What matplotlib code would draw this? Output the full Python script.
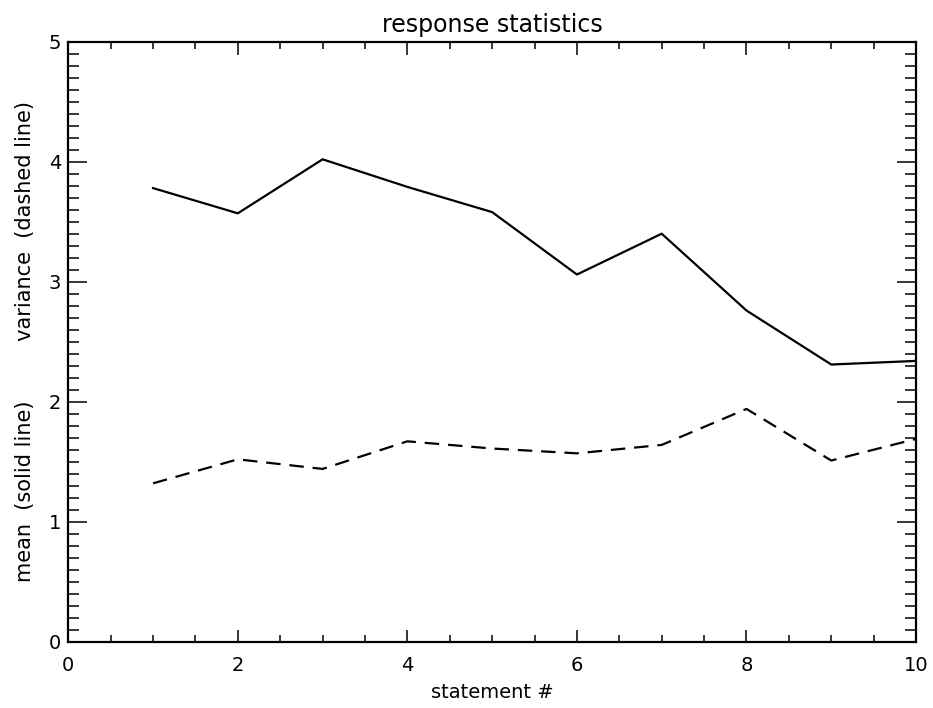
"""
response statistics: mean and variance per statement
"""

import numpy as np
from matplotlib import pyplot as plt
from matplotlib.ticker import MultipleLocator

statements = [1, 2, 3, 4, 5, 6, 7, 8, 9, 10]
mean_vals = [3.78, 3.57, 4.02, 3.79, 3.58, 3.06, 3.40, 2.76, 2.31, 2.34]
variance_vals = [1.32, 1.52, 1.44, 1.67, 1.61, 1.57, 1.64, 1.94, 1.51, 1.69]

plt.rcParams['font.family'] = ['DejaVu Sans']

fig = plt.figure(figsize=(9.33, 7.08), dpi=100)
ax = fig.add_axes([0.0732, 0.0936, 0.9086, 0.8475])

ax.plot(statements, mean_vals, color='black', linewidth=1.6)
ax.plot(statements, variance_vals, color='black', linewidth=1.6, linestyle=(0, (6.5, 4)))

ax.set_xlim(0, 10)
ax.set_ylim(0, 5)
ax.xaxis.set_major_locator(MultipleLocator(2))
ax.xaxis.set_minor_locator(MultipleLocator(0.5))
ax.yaxis.set_major_locator(MultipleLocator(1))
ax.yaxis.set_minor_locator(MultipleLocator(0.1))

ax.tick_params(axis='x', which='major', direction='in', length=9, width=1.1,
               top=True, bottom=True, pad=10, labelsize=14)
ax.tick_params(axis='x', which='minor', direction='in', length=5, width=1.1,
               top=True, bottom=True)
ax.tick_params(axis='y', which='major', direction='in', length=14, width=1.1,
               left=True, right=True, pad=5, labelsize=14)
ax.tick_params(axis='y', which='minor', direction='in', length=8, width=1.1,
               left=True, right=True)

for side in ax.spines.values():
    side.set_linewidth(1.6)

ax.set_title('response statistics', fontsize=17, pad=7)
ax.set_xlabel('statement #', fontsize=14)
ax.xaxis.set_label_coords(0.5, -0.068)
ax.set_ylabel('mean  (solid line)         variance  (dashed line)', fontsize=15, va='center')
ax.yaxis.set_label_coords(-0.051, 0.5)

fig.savefig('out.png', dpi=100)
